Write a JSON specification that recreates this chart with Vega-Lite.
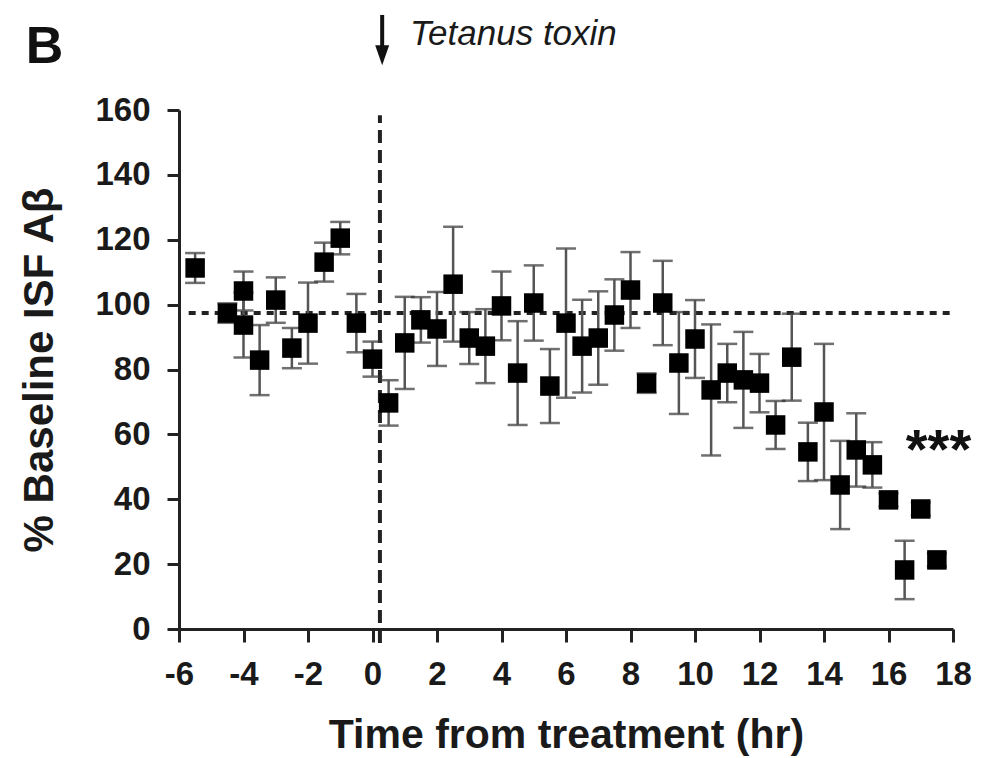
{
  "$schema": "https://vega.github.io/schema/vega-lite/v6.json",
  "autosize": {"type": "none"},
  "width": 774,
  "height": 519,
  "padding": {"left": 179, "top": 110, "right": 38, "bottom": 129},
  "background": "white",
  "config": {
    "view": {"stroke": null},
    "font": "Liberation Sans",
    "axis": {"grid": false, "domainColor": "#222", "domainWidth": 3, "tickColor": "#222", "tickWidth": 3, "labelColor": "#1a1a1a", "titleColor": "#1a1a1a", "labelFont": "Liberation Sans", "titleFont": "Liberation Sans", "labelFontWeight": "bold", "titleFontWeight": "bold", "labelFlush": false}
  },
  "datasets": {
    "abeta": [
      {"t": -5.5, "mean": 111.3, "sem": 4.6},
      {"t": -4.5, "mean": 97.4, "sem": 3},
      {"t": -4, "mean": 104.2, "sem": 6},
      {"t": -4, "mean": 93.7, "sem": 10},
      {"t": -3.5, "mean": 82.9, "sem": 10.8},
      {"t": -3, "mean": 101.4, "sem": 7},
      {"t": -2.5, "mean": 86.6, "sem": 6.2},
      {"t": -2, "mean": 94.3, "sem": 12.5},
      {"t": -1.5, "mean": 113.1, "sem": 6},
      {"t": -1, "mean": 120.5, "sem": 5},
      {"t": -0.5, "mean": 94.3, "sem": 9},
      {"t": 0, "mean": 83.2, "sem": 5.4},
      {"t": 0.5, "mean": 69.7, "sem": 7},
      {"t": 1, "mean": 88.2, "sem": 14.2},
      {"t": 1.5, "mean": 95.3, "sem": 7},
      {"t": 2, "mean": 92.5, "sem": 11.4},
      {"t": 2.5, "mean": 106.3, "sem": 17.7},
      {"t": 3, "mean": 89.7, "sem": 8},
      {"t": 3.5, "mean": 87.2, "sem": 11.4},
      {"t": 4, "mean": 99.6, "sem": 10.6},
      {"t": 4.5, "mean": 78.9, "sem": 16},
      {"t": 5, "mean": 100.5, "sem": 11.6},
      {"t": 5.5, "mean": 74.9, "sem": 11.4},
      {"t": 6, "mean": 94.3, "sem": 23},
      {"t": 6.5, "mean": 87.2, "sem": 14.3},
      {"t": 7, "mean": 89.7, "sem": 14.4},
      {"t": 7.5, "mean": 96.8, "sem": 11},
      {"t": 8, "mean": 104.5, "sem": 11.7},
      {"t": 8.5, "mean": 75.8, "sem": 3},
      {"t": 9, "mean": 100.5, "sem": 13},
      {"t": 9.5, "mean": 82, "sem": 15.7},
      {"t": 10, "mean": 89.4, "sem": 12},
      {"t": 10.5, "mean": 73.7, "sem": 20.2},
      {"t": 11, "mean": 78.9, "sem": 9},
      {"t": 11.5, "mean": 76.8, "sem": 14.8},
      {"t": 12, "mean": 75.8, "sem": 9},
      {"t": 12.5, "mean": 62.9, "sem": 7.4},
      {"t": 13, "mean": 83.8, "sem": 13.4},
      {"t": 13.5, "mean": 54.6, "sem": 9},
      {"t": 14, "mean": 66.9, "sem": 21},
      {"t": 14.5, "mean": 44.4, "sem": 13.6},
      {"t": 15, "mean": 55.2, "sem": 11.3},
      {"t": 15.5, "mean": 50.6, "sem": 7},
      {"t": 16, "mean": 39.8, "sem": 2},
      {"t": 16.5, "mean": 18.2, "sem": 9},
      {"t": 17, "mean": 37, "sem": 2},
      {"t": 17.5, "mean": 21.3, "sem": 2}
    ]
  },
  "layer": [
    {
      "data": {"values": [{"x": -5.7, "x2": 18, "y": 97.4}]},
      "mark": {"type": "rule", "strokeDash": [7, 6], "strokeWidth": 4, "color": "#222"},
      "encoding": {
        "x": {"field": "x", "type": "quantitative", "title": "Time from treatment (hr)", "scale": {"domain": [-6, 18], "nice": false, "zero": false},
          "axis": {"values": [-6, -4, -2, 0, 2, 4, 6, 8, 10, 12, 14, 16, 18], "labelExpr": "datum.value + ''", "labelFontSize": 33, "tickSize": 13, "labelPadding": 16, "titleFontSize": 41, "titlePadding": 24}},
        "x2": {"field": "x2"},
        "y": {"field": "y", "type": "quantitative", "title": "% Baseline ISF Aβ", "scale": {"domain": [0, 160], "nice": false},
          "axis": {"values": [0, 20, 40, 60, 80, 100, 120, 140, 160], "labelFontSize": 33, "tickSize": 12, "labelPadding": 17, "titleFontSize": 42, "titlePadding": 33}}
      }
    },
    {
      "data": {"values": [{"x": 0.23, "y": -4.3, "y2": 158.4}]},
      "mark": {"type": "rule", "strokeDash": [13, 7], "strokeWidth": 4, "color": "#222", "clip": false},
      "encoding": {
        "x": {"field": "x", "type": "quantitative", "title": "Time from treatment (hr)"},
        "y": {"field": "y", "type": "quantitative", "title": "% Baseline ISF Aβ"},
        "y2": {"field": "y2"}
      }
    },
    {
      "data": {"name": "abeta"},
      "mark": {"type": "errorbar", "ticks": {"color": "#333", "size": 20, "thickness": 2.5}, "rule": {"color": "#555", "strokeWidth": 2.5}},
      "encoding": {
        "x": {"field": "t", "type": "quantitative", "title": "Time from treatment (hr)"},
        "y": {"field": "mean", "type": "quantitative", "title": "% Baseline ISF Aβ"},
        "yError": {"field": "sem"}
      }
    },
    {
      "data": {"name": "abeta"},
      "mark": {"type": "point", "shape": "square", "filled": true, "size": 380, "color": "#000", "opacity": 1},
      "encoding": {
        "x": {"field": "t", "type": "quantitative", "title": "Time from treatment (hr)"},
        "y": {"field": "mean", "type": "quantitative", "title": "% Baseline ISF Aβ"}
      }
    },
    {
      "data": {"values": [{"x": 0.3, "y": 189.3, "y2": 179.4}]},
      "mark": {"type": "rule", "strokeWidth": 4, "color": "#111", "clip": false},
      "encoding": {
        "x": {"field": "x", "type": "quantitative"},
        "y": {"field": "y", "type": "quantitative"},
        "y2": {"field": "y2"}
      }
    },
    {
      "data": {"values": [{"x": 0.3, "y": 176.9}]},
      "mark": {"type": "point", "shape": "M-0.7,-1L0.7,-1L0,1Z", "size": 400, "filled": true, "color": "#111", "opacity": 1, "clip": false},
      "encoding": {
        "x": {"field": "x", "type": "quantitative"},
        "y": {"field": "y", "type": "quantitative"}
      }
    },
    {
      "data": {"values": [{"x": 1.16, "y": 180, "label": "Tetanus toxin"}]},
      "mark": {"type": "text", "align": "left", "baseline": "alphabetic", "fontSize": 35, "fontStyle": "italic", "font": "Liberation Sans", "color": "#1a1a1a", "clip": false},
      "encoding": {
        "x": {"field": "x", "type": "quantitative"},
        "y": {"field": "y", "type": "quantitative"},
        "text": {"field": "label"}
      }
    },
    {
      "data": {"values": [{"x": -10.75, "y": 174.5, "label": "B"}]},
      "mark": {"type": "text", "align": "left", "baseline": "alphabetic", "fontSize": 52, "fontWeight": "bold", "font": "Liberation Sans", "color": "#111", "clip": false},
      "encoding": {
        "x": {"field": "x", "type": "quantitative"},
        "y": {"field": "y", "type": "quantitative"},
        "text": {"field": "label"}
      }
    },
    {
      "data": {"values": [{"x": 17.55, "y": 49.6, "label": "***"}]},
      "mark": {"type": "text", "align": "center", "baseline": "alphabetic", "fontSize": 56, "fontWeight": "bold", "font": "Liberation Sans", "color": "#111", "clip": false},
      "encoding": {
        "x": {"field": "x", "type": "quantitative"},
        "y": {"field": "y", "type": "quantitative"},
        "text": {"field": "label"}
      }
    }
  ]
}
